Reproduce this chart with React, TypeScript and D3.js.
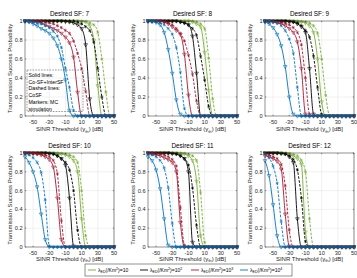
import * as d3 from "d3";

// SINR thresholds (dB) at which the curves / MC points were read
const thresholds = [-60, -55, -50, -45, -40, -35, -30, -25, -20, -15, -10, -5, 0, 5, 10, 15, 20, 25, 30, 35, 40, 45, 50];
const xTicks = [-50, -30, -10, 10, 30, 50];
const yTicks = [0, 0.2, 0.4, 0.6, 0.8, 1];
const desiredSF = [7, 8, 9, 10, 11, 12];
const densityExp = ["", "2", "3", "4"];
const colors = ["#77AC30", "#000000", "#A2142F", "#0072BD"];
const noteLines = ["Solid lines:", "Co-SF+InterSF", "Dashed lines:", "CoSF", "Markers: MC", "simulation"];

// solid: Co-SF + InterSF, order green (10), black (10^2), red (10^3), blue (10^4)
const sf7Green = [1, 1, 1, 1, 1, 1, 1, 1, 1, 1, 1, 1, 1, 1, 0.995, 0.99, 0.95, 0.8, 0.32, 0, 0, 0, 0];
const sf7Black = [1, 1, 1, 1, 1, 1, 1, 1, 1, 1, 0.995, 0.99, 0.98, 0.96, 0.92, 0.75, 0.18, 0, 0, 0, 0, 0, 0];
const sf7Red = [1, 1, 0.995, 0.99, 0.98, 0.96, 0.94, 0.92, 0.9, 0.87, 0.83, 0.77, 0.62, 0.25, 0, 0, 0, 0, 0, 0, 0, 0, 0];
const sf7Blue = [1, 0.99, 0.97, 0.95, 0.92, 0.9, 0.87, 0.82, 0.74, 0.6, 0.38, 0.06, 0, 0, 0, 0, 0, 0, 0, 0, 0, 0, 0];
// dashed: CoSF only
const sf7GreenCo = [1, 1, 1, 1, 1, 1, 1, 1, 1, 1, 1, 1, 1, 1, 1, 0.995, 0.98, 0.96, 0.88, 0.6, 0.25, 0, 0];
const sf7BlackCo = [1, 1, 1, 1, 1, 1, 1, 1, 1, 1, 1, 1, 1, 0.99, 0.97, 0.94, 0.9, 0.78, 0.5, 0.2, 0, 0, 0];
const sf7RedCo = [1, 1, 1, 1, 1, 0.99, 0.98, 0.97, 0.95, 0.93, 0.9, 0.87, 0.79, 0.66, 0.5, 0.26, 0, 0, 0, 0, 0, 0, 0];
const sf7BlueCo = [1, 0.995, 0.99, 0.98, 0.97, 0.95, 0.93, 0.89, 0.84, 0.72, 0.5, 0.3, 0.06, 0, 0, 0, 0, 0, 0, 0, 0, 0, 0];

const sf8Green = [1, 1, 1, 1, 1, 1, 1, 1, 1, 1, 1, 0.99, 0.97, 0.94, 0.67, 0.27, 0, 0, 0, 0, 0, 0, 0];
const sf8Black = [1, 1, 1, 1, 1, 1, 1, 1, 0.99, 0.98, 0.96, 0.84, 0.45, 0, 0, 0, 0, 0, 0, 0, 0, 0, 0];
const sf8Red = [1, 1, 1, 1, 0.99, 0.97, 0.94, 0.9, 0.86, 0.65, 0.22, 0, 0, 0, 0, 0, 0, 0, 0, 0, 0, 0, 0];
const sf8Blue = [1, 0.995, 0.985, 0.96, 0.88, 0.7, 0.45, 0.17, 0.02, 0, 0, 0, 0, 0, 0, 0, 0, 0, 0, 0, 0, 0, 0];
const sf8GreenCo = [1, 1, 1, 1, 1, 1, 1, 1, 1, 1, 1, 1, 0.99, 0.97, 0.92, 0.61, 0.18, 0, 0, 0, 0, 0, 0];
const sf8BlackCo = [1, 1, 1, 1, 1, 1, 1, 1, 0.99, 0.98, 0.96, 0.92, 0.85, 0.63, 0.38, 0.1, 0, 0, 0, 0, 0, 0, 0];
const sf8RedCo = [1, 1, 1, 1, 0.99, 0.98, 0.96, 0.92, 0.87, 0.79, 0.64, 0.44, 0.16, 0, 0, 0, 0, 0, 0, 0, 0, 0, 0];
const sf8BlueCo = [1, 1, 0.995, 0.98, 0.96, 0.92, 0.86, 0.72, 0.46, 0.08, 0, 0, 0, 0, 0, 0, 0, 0, 0, 0, 0, 0, 0];

const sf9Green = [1, 1, 1, 1, 1, 1, 1, 1, 0.995, 0.99, 0.98, 0.95, 0.88, 0.6, 0.15, 0, 0, 0, 0, 0, 0, 0, 0];
const sf9Black = [1, 1, 1, 1, 1, 1, 0.995, 0.99, 0.97, 0.94, 0.88, 0.5, 0.02, 0, 0, 0, 0, 0, 0, 0, 0, 0, 0];
const sf9Red = [1, 0.995, 0.99, 0.98, 0.97, 0.95, 0.92, 0.88, 0.78, 0.5, 0.02, 0, 0, 0, 0, 0, 0, 0, 0, 0, 0, 0, 0];
const sf9Blue = [0.99, 0.97, 0.93, 0.86, 0.74, 0.52, 0.2, 0.02, 0, 0, 0, 0, 0, 0, 0, 0, 0, 0, 0, 0, 0, 0, 0];
const sf9GreenCo = [1, 1, 1, 1, 1, 1, 1, 1, 1, 0.995, 0.99, 0.98, 0.95, 0.87, 0.6, 0.22, 0, 0, 0, 0, 0, 0, 0];
const sf9BlackCo = [1, 1, 1, 1, 1, 1, 0.995, 0.99, 0.98, 0.95, 0.9, 0.83, 0.63, 0.3, 0.02, 0, 0, 0, 0, 0, 0, 0, 0];
const sf9RedCo = [1, 1, 0.995, 0.99, 0.985, 0.975, 0.96, 0.93, 0.88, 0.75, 0.4, 0.02, 0, 0, 0, 0, 0, 0, 0, 0, 0, 0, 0];
const sf9BlueCo = [1, 1, 0.99, 0.98, 0.95, 0.9, 0.81, 0.66, 0.3, 0, 0, 0, 0, 0, 0, 0, 0, 0, 0, 0, 0, 0, 0];

const sf10Green = [1, 1, 1, 1, 1, 1, 1, 1, 0.995, 0.99, 0.98, 0.96, 0.92, 0.8, 0.3, 0, 0, 0, 0, 0, 0, 0, 0];
const sf10Black = [1, 1, 1, 1, 1, 1, 0.995, 0.99, 0.97, 0.94, 0.87, 0.52, 0.01, 0, 0, 0, 0, 0, 0, 0, 0, 0, 0];
const sf10Red = [1, 0.995, 0.995, 0.99, 0.98, 0.96, 0.93, 0.85, 0.52, 0.08, 0, 0, 0, 0, 0, 0, 0, 0, 0, 0, 0, 0, 0];
const sf10Blue = [0.96, 0.9, 0.8, 0.64, 0.35, 0.08, 0, 0, 0, 0, 0, 0, 0, 0, 0, 0, 0, 0, 0, 0, 0, 0, 0];
const sf10GreenCo = [1, 1, 1, 1, 1, 1, 1, 1, 1, 0.995, 0.99, 0.98, 0.96, 0.9, 0.6, 0.12, 0, 0, 0, 0, 0, 0, 0];
const sf10BlackCo = [1, 1, 1, 1, 1, 1, 0.995, 0.99, 0.97, 0.94, 0.9, 0.82, 0.6, 0.18, 0, 0, 0, 0, 0, 0, 0, 0, 0];
const sf10RedCo = [1, 1, 0.995, 0.99, 0.99, 0.98, 0.96, 0.92, 0.78, 0.28, 0, 0, 0, 0, 0, 0, 0, 0, 0, 0, 0, 0, 0];
const sf10BlueCo = [0.995, 0.98, 0.95, 0.9, 0.79, 0.5, 0.01, 0, 0, 0, 0, 0, 0, 0, 0, 0, 0, 0, 0, 0, 0, 0, 0];

const sf11Green = [1, 1, 1, 1, 1, 1, 1, 1, 0.995, 0.99, 0.97, 0.92, 0.7, 0.12, 0, 0, 0, 0, 0, 0, 0, 0, 0];
const sf11Black = [1, 1, 1, 1, 1, 1, 0.995, 0.99, 0.97, 0.94, 0.8, 0.05, 0, 0, 0, 0, 0, 0, 0, 0, 0, 0, 0];
const sf11Red = [1, 0.99, 0.98, 0.97, 0.95, 0.93, 0.9, 0.8, 0.26, 0, 0, 0, 0, 0, 0, 0, 0, 0, 0, 0, 0, 0, 0];
const sf11Blue = [0.96, 0.92, 0.82, 0.62, 0.3, 0.02, 0, 0, 0, 0, 0, 0, 0, 0, 0, 0, 0, 0, 0, 0, 0, 0, 0];
const sf11GreenCo = [1, 1, 1, 1, 1, 1, 1, 1, 1, 0.995, 0.985, 0.97, 0.92, 0.58, 0.05, 0, 0, 0, 0, 0, 0, 0, 0];
const sf11BlackCo = [1, 1, 1, 1, 1, 1, 0.995, 0.99, 0.97, 0.94, 0.87, 0.63, 0.23, 0, 0, 0, 0, 0, 0, 0, 0, 0, 0];
const sf11RedCo = [1, 1, 0.995, 0.99, 0.98, 0.96, 0.93, 0.86, 0.42, 0.02, 0, 0, 0, 0, 0, 0, 0, 0, 0, 0, 0, 0, 0];
const sf11BlueCo = [0.99, 0.98, 0.96, 0.92, 0.84, 0.63, 0.25, 0, 0, 0, 0, 0, 0, 0, 0, 0, 0, 0, 0, 0, 0, 0, 0];

const sf12Green = [1, 1, 1, 1, 1, 0.995, 0.99, 0.97, 0.94, 0.88, 0.16, 0, 0, 0, 0, 0, 0, 0, 0, 0, 0, 0, 0];
const sf12Black = [1, 1, 1, 1, 0.995, 0.99, 0.96, 0.9, 0.3, 0, 0, 0, 0, 0, 0, 0, 0, 0, 0, 0, 0, 0, 0];
const sf12Red = [0.97, 0.96, 0.94, 0.91, 0.83, 0.35, 0.01, 0, 0, 0, 0, 0, 0, 0, 0, 0, 0, 0, 0, 0, 0, 0, 0];
const sf12Blue = [0.92, 0.76, 0.45, 0.12, 0, 0, 0, 0, 0, 0, 0, 0, 0, 0, 0, 0, 0, 0, 0, 0, 0, 0, 0];
const sf12GreenCo = [1, 1, 1, 1, 1, 1, 0.995, 0.985, 0.97, 0.92, 0.8, 0.3, 0, 0, 0, 0, 0, 0, 0, 0, 0, 0, 0];
const sf12BlackCo = [1, 1, 1, 1, 0.995, 0.99, 0.97, 0.93, 0.82, 0.52, 0.06, 0, 0, 0, 0, 0, 0, 0, 0, 0, 0, 0, 0];
const sf12RedCo = [0.99, 0.98, 0.96, 0.94, 0.88, 0.65, 0.18, 0, 0, 0, 0, 0, 0, 0, 0, 0, 0, 0, 0, 0, 0, 0, 0];
const sf12BlueCo = [0.99, 0.95, 0.86, 0.68, 0.27, 0, 0, 0, 0, 0, 0, 0, 0, 0, 0, 0, 0, 0, 0, 0, 0, 0, 0];

const solidSets = [
  [sf7Green, sf7Black, sf7Red, sf7Blue],
  [sf8Green, sf8Black, sf8Red, sf8Blue],
  [sf9Green, sf9Black, sf9Red, sf9Blue],
  [sf10Green, sf10Black, sf10Red, sf10Blue],
  [sf11Green, sf11Black, sf11Red, sf11Blue],
  [sf12Green, sf12Black, sf12Red, sf12Blue],
];
const dashedSets = [
  [sf7GreenCo, sf7BlackCo, sf7RedCo, sf7BlueCo],
  [sf8GreenCo, sf8BlackCo, sf8RedCo, sf8BlueCo],
  [sf9GreenCo, sf9BlackCo, sf9RedCo, sf9BlueCo],
  [sf10GreenCo, sf10BlackCo, sf10RedCo, sf10BlueCo],
  [sf11GreenCo, sf11BlackCo, sf11RedCo, sf11BlueCo],
  [sf12GreenCo, sf12BlackCo, sf12RedCo, sf12BlueCo],
];

const W = 357;
const H = 278;
const lefts = [25, 148, 265];
const tops = [21, 153];
const heights = [95, 94];
const pw = 89;
const axisColor = "#262626";
const font = "'Liberation Sans', Arial, Helvetica, sans-serif";

const triangle = d3.symbol().type(d3.symbolTriangle).size(6)()!;
const asterisk = d3.symbol().type(d3.symbolAsterisk).size(8)()!;

function Panel({ idx }: { idx: number }) {
  const col = idx % 3;
  const row = Math.floor(idx / 3);
  const left = lefts[col];
  const top = tops[row];
  const ph = heights[row];
  const x = d3.scaleLinear().domain([-60, 50]).range([left, left + pw]);
  const y = d3.scaleLinear().domain([0, 1]).range([top + ph, top]);
  const line = d3
    .line<number>()
    .x((_, i) => x(thresholds[i]))
    .y((d) => y(d))
    .curve(d3.curveMonotoneX);
  const solid = solidSets[idx];
  const dashed = dashedSets[idx];
  const tickBase = row === 0 ? top + ph + 7.5 : top + ph + 8;
  const labelBase = row === 0 ? top + ph + 15 : top + ph + 13.5;

  return (
    <g>
      {/* grid */}
      {xTicks.map((t) => (
        <line key={"gx" + t} x1={x(t)} x2={x(t)} y1={top} y2={top + ph} stroke="#e3e3e3" strokeWidth={0.5} />
      ))}
      {yTicks.slice(1, -1).map((t) => (
        <line key={"gy" + t} x1={left} x2={left + pw} y1={y(t)} y2={y(t)} stroke="#e3e3e3" strokeWidth={0.5} />
      ))}

      {/* curves */}
      {colors.map((c, k) => (
        <g key={"c" + k}>
          <path d={line(dashed[k])!} fill="none" stroke={c} strokeWidth={0.9} strokeDasharray="2.6,1.4" />
          <path d={line(solid[k])!} fill="none" stroke={c} strokeWidth={0.9} />
          {dashed[k].map((v, i) => (
            <path
              key={"md" + i}
              d={asterisk}
              transform={`translate(${x(thresholds[i])},${y(v)})`}
              fill="none"
              stroke={c}
              strokeWidth={0.55}
            />
          ))}
          {solid[k].map((v, i) => (
            <path
              key={"ms" + i}
              d={triangle}
              transform={`translate(${x(thresholds[i])},${y(v)}) rotate(180)`}
              fill="none"
              stroke={c}
              strokeWidth={0.55}
            />
          ))}
        </g>
      ))}

      {/* axes box and ticks */}
      <rect x={left} y={top} width={pw} height={ph} fill="none" stroke={axisColor} strokeWidth={0.5} />
      {xTicks.map((t) => (
        <g key={"tx" + t}>
          <line x1={x(t)} x2={x(t)} y1={top + ph} y2={top + ph - 1.2} stroke={axisColor} strokeWidth={0.5} />
          <line x1={x(t)} x2={x(t)} y1={top} y2={top + 1.2} stroke={axisColor} strokeWidth={0.5} />
          <text x={x(t)} y={tickBase} fontSize={5.6} textAnchor="middle" fill={axisColor}>
            {t}
          </text>
        </g>
      ))}
      {yTicks.map((t) => (
        <g key={"ty" + t}>
          <line x1={left} x2={left + 1.2} y1={y(t)} y2={y(t)} stroke={axisColor} strokeWidth={0.5} />
          <line x1={left + pw} x2={left + pw - 1.2} y1={y(t)} y2={y(t)} stroke={axisColor} strokeWidth={0.5} />
          <text x={left - 2.5} y={y(t) + 2} fontSize={5.6} textAnchor="end" fill={axisColor}>
            {t}
          </text>
        </g>
      ))}

      <text x={left + pw / 2} y={top - 5} fontSize={6.4} textAnchor="middle" fill="#000">
        Desired SF: {desiredSF[idx]}
      </text>
      <text x={left + pw / 2} y={labelBase} fontSize={6} textAnchor="middle" fill={axisColor}>
        SINR Threshold (γ
        <tspan fontSize={4.2} dy={1.5}>th</tspan>
        <tspan dy={-1.5}>) [dB]</tspan>
      </text>
      <text
        transform={`translate(${left - 13},${top + ph / 2}) rotate(-90)`}
        fontSize={6}
        textAnchor="middle"
        fill={axisColor}
      >
        Transmission Success Probability
      </text>
    </g>
  );
}

function Note() {
  const x0 = 27;
  const y0 = 70;
  return (
    <g>
      <rect x={x0} y={y0} width={56} height={41.5} fill="none" stroke="#333" strokeWidth={0.5} strokeDasharray="1.6,1.2" />
      {noteLines.map((s, i) => (
        <text key={s} x={x0 + 1.5} y={y0 + 7 + i * 6.7} fontSize={5.2} fill="#000">
          {s}
        </text>
      ))}
    </g>
  );
}

function Legend() {
  const lx = [88, 140, 191, 240];
  return (
    <g>
      <rect x={85} y={264} width={207} height={12} fill="#fff" stroke="#262626" strokeWidth={0.5} />
      {colors.map((c, k) => (
        <g key={"l" + k}>
          <line x1={lx[k]} x2={lx[k] + 8} y1={270} y2={270} stroke={c} strokeWidth={0.9} />
          <text x={lx[k] + 10} y={272} fontSize={5} fill="#000">
            λ<tspan fontSize={3.6} dy={1}>ED</tspan>
            <tspan dy={-1}>(/Km</tspan>
            <tspan fontSize={3.6} dy={-1.6}>2</tspan>
            <tspan dy={1.6}>)=10</tspan>
            {densityExp[k] ? (
              <tspan fontSize={3.6} dy={-1.6}>
                {densityExp[k]}
              </tspan>
            ) : null}
          </text>
        </g>
      ))}
    </g>
  );
}

export default function App() {
  return (
    <svg
      width={W}
      height={H}
      viewBox={`0 0 ${W} ${H}`}
      style={{ position: "absolute", left: 0, top: 0, background: "#fff" }}
      fontFamily={font}
    >
      <rect width={W} height={H} fill="#fff" />
      {desiredSF.map((_, i) => (
        <Panel key={i} idx={i} />
      ))}
      <Note />
      <Legend />
    </svg>
  );
}
